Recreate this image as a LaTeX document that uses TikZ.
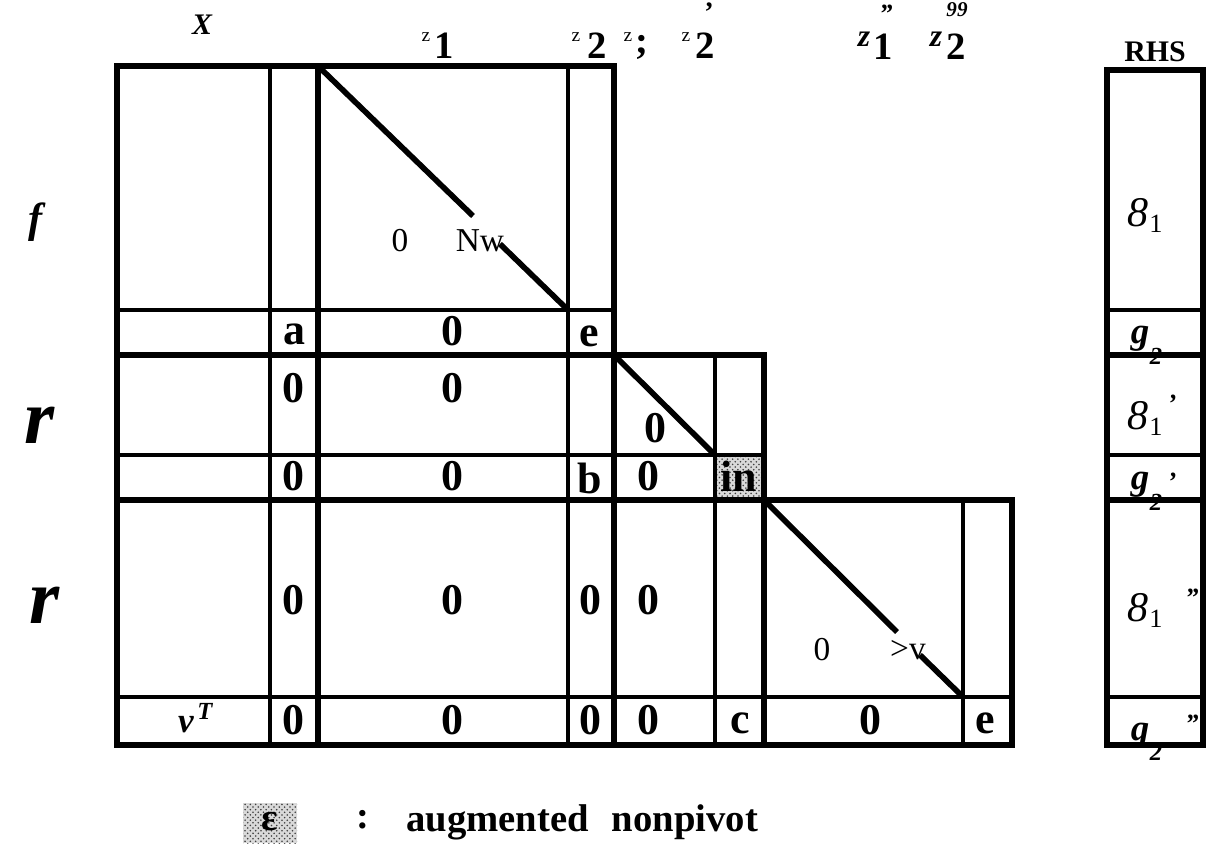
\documentclass[tikz,border=0pt]{standalone}
\usepackage{fontspec}
\setmainfont{Liberation Serif}
\usetikzlibrary{patterns}

\begin{document}
\begin{tikzpicture}[x=0.02cm,y=-0.02cm,
  thk/.style={line width=3.4pt,line cap=rect},
  thn/.style={line width=2pt},
  diag/.style={line width=3.2pt},
  ent/.style={font=\fontsize{25}{28}\selectfont\bfseries},
  plain/.style={font=\fontsize{19}{22}\selectfont},
  big/.style={font=\fontsize{22}{24}\selectfont\bfseries},
  sml/.style={font=\fontsize{11}{12}\selectfont},
  bz/.style={font=\fontsize{18}{20}\selectfont\bfseries\itshape},
  rhs/.style={font=\fontsize{24}{26}\selectfont\itshape},
  stip/.style={pattern=crosshatch dots,pattern color=black!75}]
\useasboundingbox (0,0) rectangle (1211,865);
% shaded cells
\fill[black!15] (717,457) rectangle (762,498);
\fill[stip] (717,457) rectangle (762,498);
\fill[black!15] (243,803) rectangle (297,843);
\fill[stip] (243,803) rectangle (297,843);
% thin grid lines
\draw[thn] (117,310) -- (614,310);
\draw[thn] (117,455) -- (764,455);
\draw[thn] (117,697) -- (1012,697);
\draw[thn] (270,66) -- (270,745);
\draw[thn] (568,66) -- (568,745);
\draw[thn] (715,355) -- (715,745);
\draw[thn] (963,500) -- (963,745);
% thick block borders
\draw[thk] (117,66) -- (614,66) -- (614,355) -- (764,355) -- (764,500) -- (1012,500) -- (1012,745) -- (117,745) -- cycle;
\draw[thk] (117,355) -- (614,355);
\draw[thk] (117,500) -- (764,500);
\draw[thk] (318,66) -- (318,745);
\draw[thk] (614,355) -- (614,745);
\draw[thk] (764,500) -- (764,745);
% diagonals
\draw[diag] (318,66) -- (473,216);
\draw[diag] (500,244) -- (568,310);
\draw[diag] (614,355) -- (715,455);
\draw[diag] (764,500) -- (897,632);
\draw[diag] (920,655) -- (963,697);
% RHS column
\draw[thn] (1107,310) -- (1203,310);
\draw[thn] (1107,455) -- (1203,455);
\draw[thn] (1107,697) -- (1203,697);
\draw[thk] (1107,70) rectangle (1203,745);
\draw[thk] (1107,355) -- (1203,355);
\draw[thk] (1107,500) -- (1203,500);
% top labels
\node[font=\fontsize{17}{18}\selectfont\bfseries\itshape] (x) at (202,25) {X};
\node[sml] (z1a) at (426,37) {z};
\node[big] (z1b) at (444,46) {1};
\node[sml] (z2a) at (576,37) {z};
\node[big] (z2b) at (597,46) {2};
\node[sml] (z3a) at (628,37) {z};
\node[big] (z3b) at (642,47) {;};
\node[sml] (z4a) at (686,37) {z};
\node[big] (z4b) at (705,46) {2};
\node[font=\fontsize{16}{18}\selectfont\bfseries] (z4c) at (709,12) {'};
\node[bz] (z5a) at (864,39) {z};
\node[big] (z5b) at (883,47) {1};
\node[font=\fontsize{15}{16}\selectfont\bfseries\itshape] (z5c) at (886,14) {''};
\node[bz] (z6a) at (936,39) {z};
\node[font=\fontsize{12}{13}\selectfont\bfseries\itshape] (z6c) at (957,10) {99};
\node[big] (z6b) at (956,47) {2};
\node[font=\fontsize{17}{18}\selectfont\bfseries] (rhs) at (1155,52) {RHS};
% row labels
\node[font=\fontsize{24}{26}\selectfont\bfseries\itshape] (f) at (36,222) {f};
\node[font=\fontsize{44}{48}\selectfont\bfseries\itshape] (r1) at (40,425) {r};
\node[font=\fontsize{44}{48}\selectfont\bfseries\itshape] (r2) at (45,605) {r};
% first block
\node[plain] (o1) at (400,241) {0};
\node[plain] (nw) at (480,241) {Nw};
\node[ent] (a1) at (294,334) {a};
\node[ent] (o2) at (452,331) {0};
\node[ent] (e1) at (589,336) {e};
% second block
\node[ent] (o3) at (293,388) {0};
\node[ent] (o4) at (452,388) {0};
\node[ent] (o5) at (655,428) {0};
\node[ent] (o6) at (293,476) {0};
\node[ent] (o7) at (452,476) {0};
\node[ent] (b1) at (590,478) {b};
\node[ent] (o8) at (648,476) {0};
\node[ent] (in) at (739,476) {in};
% third block
\node[ent] (o9) at (293,600) {0};
\node[ent] (o10) at (452,600) {0};
\node[ent] (o11) at (590,600) {0};
\node[ent] (o12) at (648,600) {0};
\node[plain] (o13) at (822,650) {0};
\node[plain] (gv) at (908,650) {>v};
% last row
\node[font=\fontsize{20}{22}\selectfont\bfseries\itshape] (v) at (186,725) {v};
\node[font=\fontsize{14}{16}\selectfont\bfseries\itshape] (t) at (205,711) {T};
\node[ent] (o14) at (293,720) {0};
\node[ent] (o15) at (452,720) {0};
\node[ent] (o16) at (590,720) {0};
\node[ent] (o17) at (648,720) {0};
\node[ent] (c1) at (740,723) {c};
\node[ent] (o18) at (870,720) {0};
\node[ent] (e2) at (985,723) {e};
% RHS labels
\node[rhs] (g1) at (1138,213) {8};
\node[font=\fontsize{15}{16}\selectfont] (g1s) at (1156,224) {1};
\node[font=\fontsize{21}{22}\selectfont\bfseries\itshape] (h1) at (1140,339) {g};
\node[font=\fontsize{14}{16}\selectfont\bfseries\itshape] (h1s) at (1156,356) {2};
\node[rhs] (g2) at (1138,416) {8};
\node[font=\fontsize{15}{16}\selectfont] (g2s) at (1156,427) {1};
\node[font=\fontsize{15}{16}\selectfont\bfseries\itshape] (g2p) at (1172,404) {'};
\node[font=\fontsize{21}{22}\selectfont\bfseries\itshape] (h2) at (1140,485) {g};
\node[font=\fontsize{14}{16}\selectfont\bfseries\itshape] (h2s) at (1156,502) {2};
\node[font=\fontsize{15}{16}\selectfont\bfseries\itshape] (h2p) at (1172,482) {'};
\node[rhs] (g3) at (1138,608) {8};
\node[font=\fontsize{15}{16}\selectfont] (g3s) at (1156,619) {1};
\node[font=\fontsize{15}{16}\selectfont\bfseries\itshape] (g3p) at (1192,598) {''};
\node[font=\fontsize{21}{22}\selectfont\bfseries\itshape] (h3) at (1140,736) {g};
\node[font=\fontsize{14}{16}\selectfont\bfseries\itshape] (h3s) at (1156,752) {2};
\node[font=\fontsize{15}{16}\selectfont\bfseries\itshape] (h3p) at (1192,724) {''};
% legend
\node[font=\fontsize{22}{24}\selectfont\bfseries] (eps) at (270,822) {ε};
\node[big] (colon) at (363,820) {:};
\node[big,anchor=west] (aug) at (400,822) {augmented\hspace{0.6em}nonpivot};
\end{tikzpicture}
\end{document}
